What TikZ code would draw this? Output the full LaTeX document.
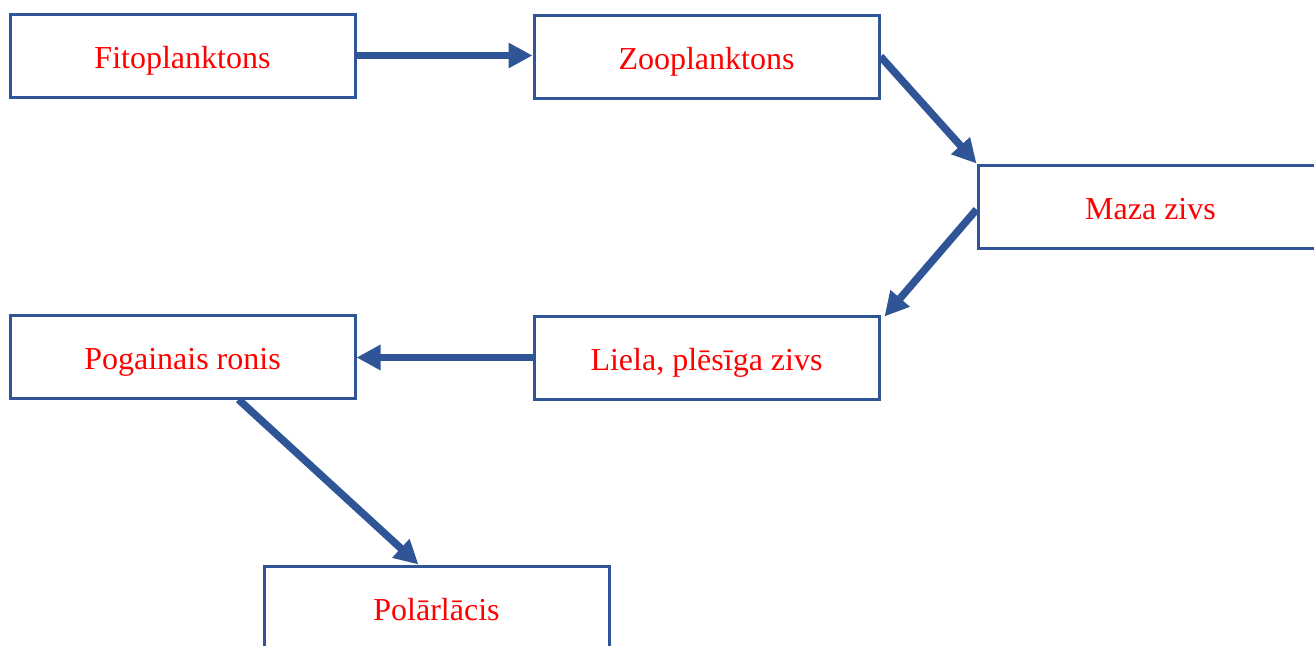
\documentclass[tikz,border=0pt]{standalone}
\usepackage{fontspec}
\setmainfont{Liberation Serif}
\usetikzlibrary{arrows.meta}
\definecolor{boxblue}{HTML}{2F5597}
\definecolor{txtred}{HTML}{FF0000}
\newcommand{\lowtext}[1]{\raisebox{-12.5pt}[0pt][0pt]{#1}}
\begin{document}
\begin{tikzpicture}[x=1pt,y=-1pt,
  foodbox/.style={draw=boxblue,line width=3pt,minimum width=345pt,minimum height=83pt,inner sep=0pt,
    text=txtred,font=\fontsize{32}{38}\selectfont},
  arr/.style={draw=boxblue,line width=7.5pt,-{Triangle[length=24pt,width=24pt]}}]
\fill[white] (0,0) rectangle (1314,645);
\useasboundingbox (0,0) rectangle (1314,645);
\node[foodbox] (fito) at (182.5,55.5) {\lowtext{Fitoplanktons}};
\node[foodbox] (zoo) at (706.5,56.5) {\lowtext{Zooplanktons}};
\node[foodbox] (maza) at (1150.5,206.5) {\lowtext{Maza zivs}};
\node[foodbox] (pog) at (182.5,356.5) {\lowtext{Pogainais ronis}};
\node[foodbox] (liela) at (706.5,357.5) {\lowtext{Liela, plēsīga zivs}};
\node[foodbox] (polar) at (436.5,607.5) {\lowtext{Polārlācis}};
\draw[arr] (fito.east) -- (fito.east -| zoo.west);
\draw[arr] (zoo.east) -- (maza.north west);
\draw[arr] ([yshift=-3pt]maza.west) -- ([shift={(4,2)}]liela.north east);
\draw[arr] (liela.west) -- (liela.west -| pog.east);
\draw[arr] ([xshift=230pt]pog.south west) -- ([xshift=156pt]polar.north west);
\end{tikzpicture}
\end{document}
